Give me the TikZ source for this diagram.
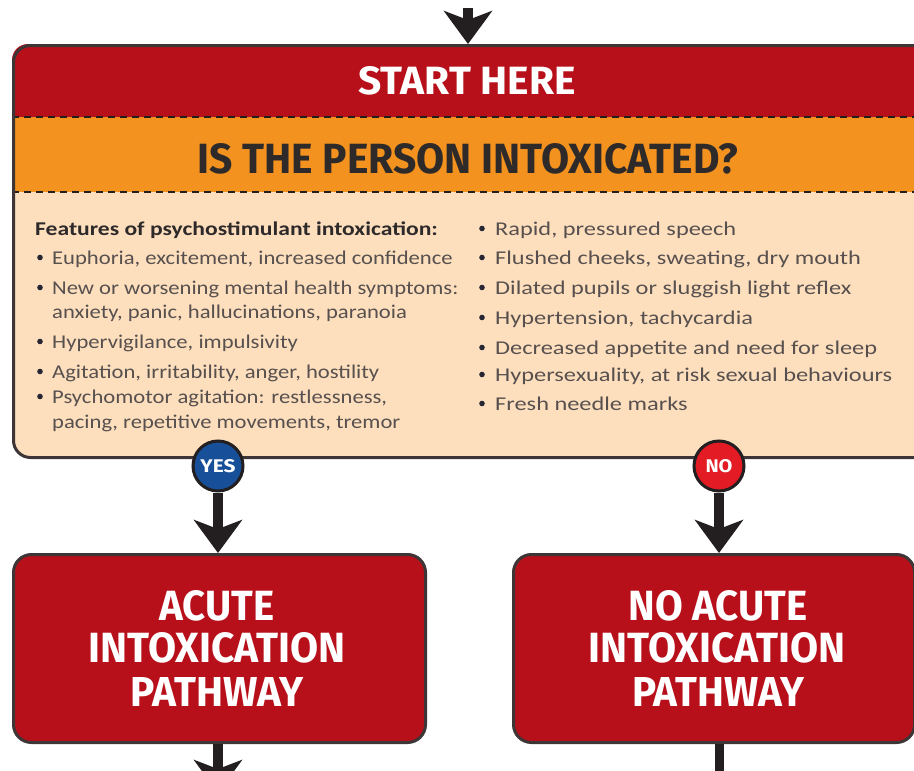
\documentclass[tikz,border=0pt]{standalone}
\usepackage{fontspec}
\usepackage{graphicx}
\setmainfont{Carlito}
\newfontfamily\headfont{Fira Sans}
\usetikzlibrary{arrows.meta}
\definecolor{hdred}{HTML}{B8101A}
\definecolor{orng}{HTML}{F3921F}
\definecolor{peach}{HTML}{FDDFBE}
\definecolor{bordc}{HTML}{3E3636}
\definecolor{arrc}{HTML}{231F20}
\definecolor{txtc}{HTML}{57504E}
\definecolor{headc}{HTML}{2E2A2A}
\definecolor{yesblue}{HTML}{174F99}
\definecolor{nored}{HTML}{E21B25}
\definecolor{bulc}{HTML}{262633}
\begin{document}
\begin{tikzpicture}[x=1pt,y=-1pt,
  hd/.style={inner sep=0pt, anchor=base},
  txt/.style={inner sep=0pt, anchor=base west, text=txtc, font=\fontsize{19.5}{22}\selectfont},
  flow/.style={draw=arrc, line width=10pt, -{Stealth[length=33pt,width=48pt,inset=9pt]}},
  badge/.style={circle, draw=arrc, line width=3pt, minimum size=50pt, inner sep=0pt, text=white, font=\headfont\bfseries},
  pathbox/.style={draw=bordc, line width=3pt, fill=hdred, rounded corners=18pt, anchor=north west, minimum height=188pt},
  dashline/.style={draw=arrc, line width=2.5pt, dash pattern=on 7pt off 5pt}
]
\useasboundingbox (0,0) rectangle (914,771);
\clip (0,0) rectangle (914,771);
% main box fills
\fill[peach] (12,192) [rounded corners=18pt] -- (12,456) [sharp corners] -- (940,456) -- (940,192) -- cycle;
\fill[hdred] (12,117) [rounded corners=16pt] -- (12,44) [sharp corners] -- (940,44) -- (940,117) -- cycle;
\fill[orng] (12,117) rectangle (940,192);
\draw[dashline] (12,117) -- (940,117);
\draw[dashline] (12,192) -- (940,192);
\node[draw=bordc, line width=3pt, rounded corners=17pt, anchor=north west,
      minimum width=928pt, minimum height=412pt] (main) at (12,44) {};
% headings
\node[hd, text=white] (start) at (467,94) {\resizebox{217pt}{28pt}{\headfont\bfseries START HERE}};
\node[hd, text=headc] (question) at (468,173) {\resizebox{541pt}{30pt}{\headfont\bfseries IS THE PERSON INTOXICATED?}};
% features text
\node[txt, text=headc, font=\fontsize{19.5}{22}\selectfont\bfseries] (feat) at (35,235) {\scalebox{1.21}[1]{Features of psychostimulant intoxication:}};
\foreach \nm/\yy/\tt in {
  l1/264/{Euphoria, excitement, increased confidence},
  l2/294/{New or worsening mental health symptoms:},
  l3/348/{Hypervigilance, impulsivity},
  l4/378/{Agitation, irritability, anger, hostility},
  l5/403/{Psychomotor agitation: restlessness,}}{
  \node[txt] (\nm) at (52,\yy) {\scalebox{1.16}[1]{\tt}};
  \fill[bulc] (40,\yy-6.5) circle (2.8pt);
}
\node[txt] (l2b) at (52,318) {\scalebox{1.16}[1]{anxiety, panic, hallucinations, paranoia}};
\node[txt] (l5b) at (52,428) {\scalebox{1.16}[1]{pacing, repetitive movements, tremor}};
\foreach \nm/\yy/\tt in {
  r1/235/{Rapid, pressured speech},
  r2/264/{Flushed cheeks, sweating, dry mouth},
  r3/294/{Dilated pupils or sluggish light reflex},
  r4/324/{Hypertension, tachycardia},
  r5/354/{Decreased appetite and need for sleep},
  r6/381/{Hypersexuality, at risk sexual behaviours},
  r7/410/{Fresh needle marks}}{
  \node[txt] (\nm) at (495,\yy) {\scalebox{1.25}[1]{\tt}};
  \fill[bulc] (482,\yy-6.5) circle (2.8pt);
}
% top incoming arrow
\coordinate (topin) at (468,8);
\draw[flow] (topin) -- (topin |- main.north);
% badges
\node[badge, fill=yesblue] (yes) at (218,466) {\resizebox{35pt}{13pt}{YES}};
\node[badge, fill=nored] (no) at (719,466) {\resizebox{27pt}{13pt}{NO}};
% pathway boxes
\node[pathbox, minimum width=412pt] (acute) at (12,553) {};
\node[pathbox, minimum width=401pt] (noacute) at (512,553) {};
\node[hd, text=white] (a1) at (217,620) {\resizebox{115pt}{30pt}{\headfont\bfseries ACUTE}};
\node[hd, text=white] (a2) at (217,662) {\resizebox{257pt}{30pt}{\headfont\bfseries INTOXICATION}};
\node[hd, text=white] (a3) at (217,706) {\resizebox{173pt}{29pt}{\headfont\bfseries PATHWAY}};
\node[hd, text=white] (b1) at (718,620) {\resizebox{179pt}{30pt}{\headfont\bfseries NO ACUTE}};
\node[hd, text=white] (b2) at (717,662) {\resizebox{257pt}{30pt}{\headfont\bfseries INTOXICATION}};
\node[hd, text=white] (b3) at (718,706) {\resizebox{172pt}{29pt}{\headfont\bfseries PATHWAY}};
% connectors
\draw[flow] (yes.south) -- (yes.south |- acute.north);
\draw[flow] (no.south) -- (no.south |- noacute.north);
\coordinate (outL) at (218,793);
\coordinate (outR) at (719,800);
\draw[flow] (acute.south -| outL) -- (outL);
\draw[draw=arrc, line width=9pt] (noacute.south -| outR) -- (outR);
\end{tikzpicture}
\end{document}
